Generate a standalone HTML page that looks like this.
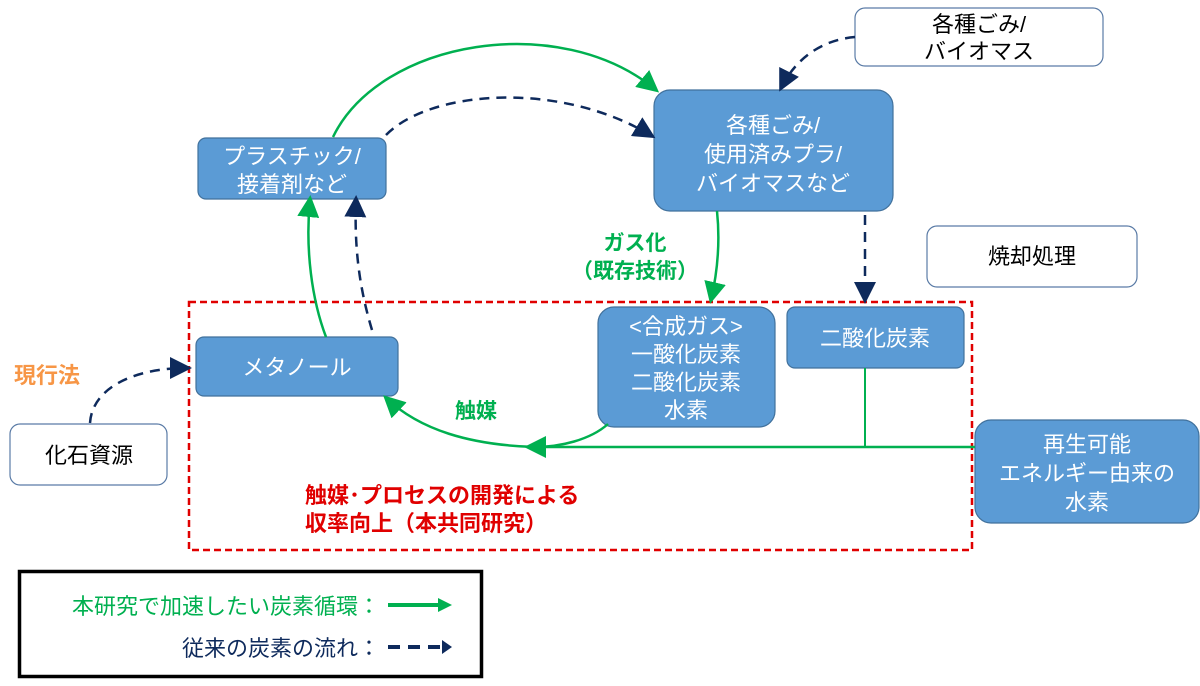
<!DOCTYPE html>
<html><head><meta charset="utf-8"><style>
html,body{margin:0;padding:0;background:#fff;}
svg text{font-family:"Liberation Sans","Noto Sans CJK JP",sans-serif;}
</style></head><body>
<svg width="1200" height="681" viewBox="0 0 1200 681" xmlns="http://www.w3.org/2000/svg">
<defs>
<marker id="gb" markerWidth="22" markerHeight="22" refX="18" refY="11" orient="auto" markerUnits="userSpaceOnUse"><path d="M0,0 L22,11 L0,22 z" fill="#00b050"/></marker>
<marker id="nb" markerWidth="22" markerHeight="22" refX="18" refY="11" orient="auto" markerUnits="userSpaceOnUse"><path d="M0,0 L22,11 L0,22 z" fill="#0e2a5c"/></marker>
</defs>
<rect width="1200" height="681" fill="#fff"/>
<rect x="189" y="302" width="783" height="248" fill="none" stroke="#e00000" stroke-width="2.5" stroke-dasharray="7,4"/>
<rect x="855" y="8" width="248" height="58" rx="10" fill="#fff" stroke="#5a7ba6" stroke-width="1.2"/>
<rect x="654" y="90" width="239" height="121" rx="16" fill="#5b9bd5" stroke="#41719c" stroke-width="1.2"/>
<rect x="198" y="138" width="188" height="61" rx="8" fill="#5b9bd5" stroke="#41719c" stroke-width="1.2"/>
<rect x="927" y="226" width="210" height="61" rx="10" fill="#fff" stroke="#5a7ba6" stroke-width="1.2"/>
<rect x="598" y="307" width="177" height="120" rx="16" fill="#5b9bd5" stroke="#41719c" stroke-width="1.2"/>
<rect x="787" y="307" width="177" height="61" rx="8" fill="#5b9bd5" stroke="#41719c" stroke-width="1.2"/>
<rect x="196" y="337" width="202" height="59" rx="8" fill="#5b9bd5" stroke="#41719c" stroke-width="1.2"/>
<rect x="10" y="424" width="157" height="61" rx="10" fill="#fff" stroke="#5a7ba6" stroke-width="1.2"/>
<rect x="975" y="420" width="224" height="103" rx="16" fill="#5b9bd5" stroke="#41719c" stroke-width="1.2"/>
<rect x="19.5" y="571.5" width="462" height="105" fill="#fff" stroke="#000" stroke-width="3.5"/>
<path d="M333,137 C380,40 560,10 656,90" fill="none" stroke="#00b050" stroke-width="2.5" marker-end="url(#gb)"/>
<path d="M326,337 C312,300 305,250 310,199" fill="none" stroke="#00b050" stroke-width="2.5" marker-end="url(#gb)"/>
<path d="M717,211 C720,240 718,270 711,300" fill="none" stroke="#00b050" stroke-width="2.5" marker-end="url(#gb)"/>
<path d="M608,424 C590,440 560,447 535,447 C470,445 420,430 386,398" fill="none" stroke="#00b050" stroke-width="2.5" marker-end="url(#gb)"/>
<path d="M975,447 L528,447" fill="none" stroke="#00b050" stroke-width="2.5" marker-end="url(#gb)"/>
<path d="M865,368 L865,447" fill="none" stroke="#00b050" stroke-width="2"/>
<g fill="none" stroke="#0e2a5c" stroke-width="2.5" stroke-dasharray="10,7">
<path d="M386,135 C430,90 560,80 652,136" marker-end="url(#nb)"/>
<path d="M372,330 C360,290 354,250 356,199" marker-end="url(#nb)"/>
<path d="M865,215 L865,300" marker-end="url(#nb)"/>
<path d="M855,37 C820,40 795,60 781,88" marker-end="url(#nb)"/>
<path d="M90,423 C92,390 130,368 188,368" marker-end="url(#nb)"/>
</g>
<g font-size="22" text-anchor="middle" fill="#fff">
<text x="773" y="133">各種ごみ/</text>
<text x="773" y="162">使用済みプラ/</text>
<text x="773" y="191">バイオマスなど</text>
<text x="292" y="164">プラスチック/</text>
<text x="292" y="192">接着剤など</text>
<text x="686" y="334">&lt;合成ガス&gt;</text>
<text x="686" y="362">一酸化炭素</text>
<text x="686" y="390">二酸化炭素</text>
<text x="686" y="418">水素</text>
<text x="875" y="346">二酸化炭素</text>
<text x="297" y="375">メタノール</text>
<text x="1087" y="452">再生可能</text>
<text x="1087" y="481">エネルギー由来の</text>
<text x="1087" y="510">水素</text>
</g>
<g font-size="22" text-anchor="middle" fill="#000">
<text x="979" y="32">各種ごみ/</text>
<text x="979" y="59">バイオマス</text>
<text x="1032" y="264">焼却処理</text>
<text x="89" y="463">化石資源</text>
</g>
<g font-size="21" font-weight="bold" fill="#00b050" text-anchor="middle">
<text x="635" y="250">ガス化</text>
<text x="635" y="278">（既存技術）</text>
<text x="476" y="418">触媒</text>
</g>
<text x="14" y="383" font-size="22" font-weight="bold" fill="#f79646">現行法</text>
<g font-size="22" font-weight="bold" fill="#e00000">
<text x="305" y="503">触媒･プロセスの開発による</text>
<text x="305" y="531">収率向上（本共同研究）</text>
</g>
<text x="380" y="614" font-size="22" fill="#00b050" text-anchor="end">本研究で加速したい炭素循環：</text>
<path d="M388,605 L440,605" stroke="#00b050" stroke-width="4"/>
<path d="M438,598 L452,605 L438,612 z" fill="#00b050"/>
<text x="380" y="656" font-size="22" fill="#0e2a5c" text-anchor="end">従来の炭素の流れ：</text>
<path d="M388,647 L442,647" stroke="#0e2a5c" stroke-width="4" stroke-dasharray="12,8"/>
<path d="M442,640 L452,647 L442,654 z" fill="#0e2a5c"/>
</svg>
</body></html>
